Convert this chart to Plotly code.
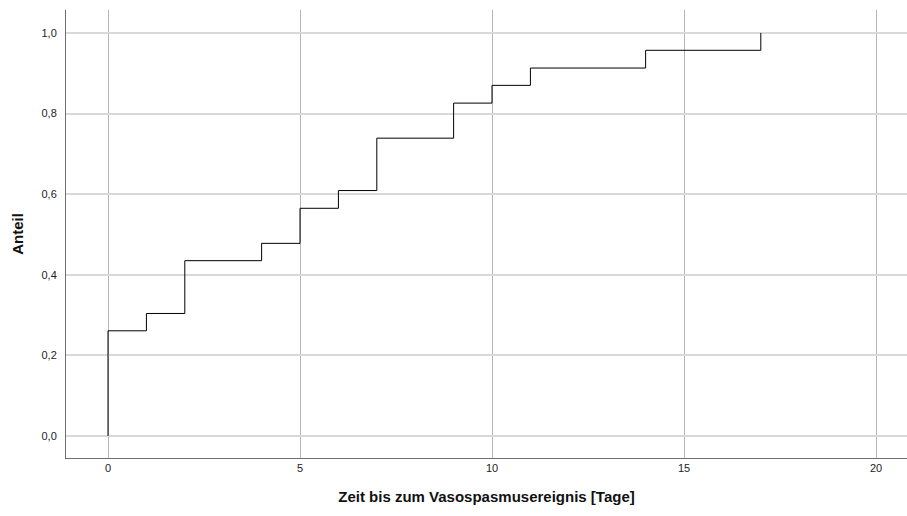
import plotly.graph_objects as go

days = [0, 1, 2, 4, 5, 6, 7, 9, 10, 11, 14, 17]
anteil = [0.261, 0.304, 0.435, 0.478, 0.565, 0.609, 0.739, 0.826, 0.870, 0.913, 0.957, 1.0]
x_ticks = [0, 5, 10, 15, 20]
y_ticks = [0.0, 0.2, 0.4, 0.6, 0.8, 1.0]

fig = go.Figure()
fig.add_trace(go.Scatter(
    x=[0] + days, y=[0.0] + anteil,
    mode="lines", line=dict(color="black", width=1, shape="hv"),
    showlegend=False, hoverinfo="skip",
))

font = "Liberation Sans, Arial, sans-serif"
fig.update_layout(
    width=907, height=516,
    margin=dict(l=66, r=0, t=10, b=58),
    paper_bgcolor="white", plot_bgcolor="white",
    separators=",.",
    font=dict(family=font, size=11, color="#222"),
    xaxis=dict(
        range=[-1.094, 20.807], tickvals=x_ticks, ticks="",
        showgrid=True, gridcolor="#b5b5b5", gridwidth=1, zeroline=False,
        showline=True, linecolor="#6e6e6e", linewidth=1, automargin=False,
        title=dict(text="<b>Zeit bis zum Vasospasmusereignis [Tage]</b>",
                   font=dict(size=15, color="#111"), standoff=18),
        tickfont=dict(size=11, color="#222"),
    ),
    yaxis=dict(
        range=[-0.0546, 1.057], tickvals=y_ticks, tickformat=".1f", ticks="",
        showgrid=True, gridcolor="#d9d9d9", gridwidth=2, zeroline=False,
        showline=True, linecolor="#6e6e6e", linewidth=1, automargin=False,
        title=dict(text="<b>Anteil</b>", font=dict(size=15, color="#111"), standoff=14),
        tickfont=dict(size=11, color="#222"),
        ticklabelstandoff=6,
    ),
)

fig.write_html("out.html", config={"displayModeBar": False},
               post_script="document.body.style.margin='0';document.body.style.overflow='hidden';")
